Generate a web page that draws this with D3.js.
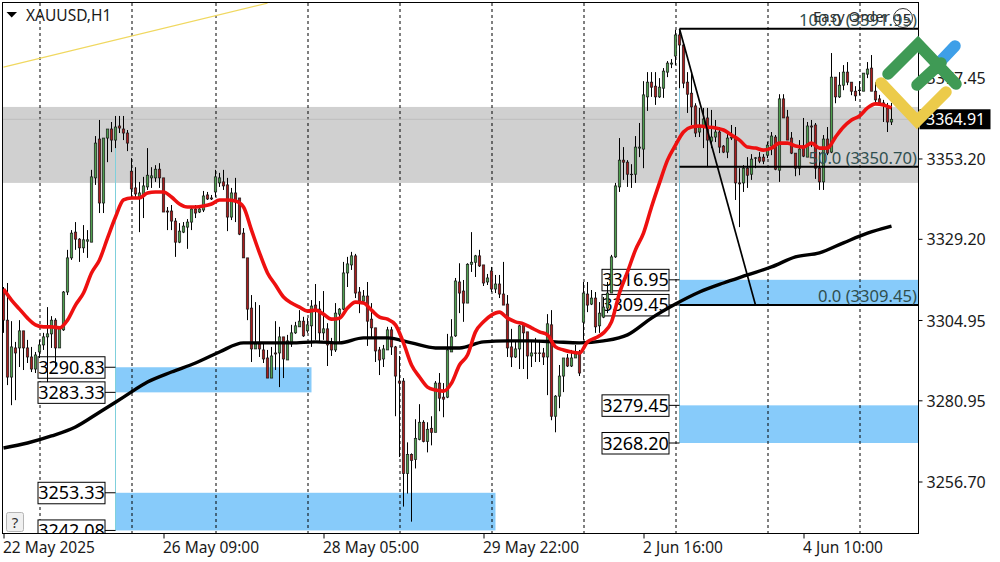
<!DOCTYPE html>
<html>
<head>
<meta charset="utf-8">
<title>XAUUSD,H1</title>
<script src="https://cdn.jsdelivr.net/npm/d3@7"></script>
<style>
body { margin: 0; background: #fff; overflow: hidden; }
svg text { font-family: "Noto Sans", sans-serif; }
</style>
</head>
<body>
<div id="chart"></div>
<script>
// hourly candles, one value per bar
var opens = [3313.9,3304.9,3287.9,3296.6,3296.6,3301.7,3296.6,3293.9,3290.3,3295.4,3297.5,3299.9,3300.8,3304.9,3296.6,3302,3313.3,3323.5,3331.2,3329.1,
3326.5,3328.5,3328.2,3347.4,3359,3339.9,3359.3,3362,3358.7,3362.9,3362,3360.8,3349.4,3344.4,3341.7,3342.3,3344.7,3347.4,3347.4,3350,
3347.4,3337.5,3337.5,3334.5,3328.2,3331.2,3332.7,3334.2,3338.1,3337.2,3337.8,3342.3,3341.4,3343.2,3345.9,3346.2,3345.3,3335.7,3342.9,3341.4,
3330.9,3323.5,3308.5,3296.3,3297.8,3296,3293.6,3287.6,3295.1,3295.1,3299.9,3293,3297.8,3301.1,3302.9,3304.6,3301.7,3303.2,3309.4,3308.2,
3301.1,3302.3,3298.4,3296,3306.7,3308.2,3319,3321.4,3324.1,3313.3,3310.6,3312.1,3305.2,3302.6,3296,3293.3,3296,3302,3296.9,3286.7,
3286.7,3259.1,3264.8,3263.3,3269.3,3274.4,3268.7,3272.6,3271.4,3286.1,3281.9,3281.9,3295.4,3300.2,3316.3,3313.6,3310,3321.6,3322.2,3324.1,
3321.4,3316.3,3319.6,3314.2,3315.7,3312.7,3309.7,3296.9,3293.9,3296.3,3303.5,3301.4,3294.2,3295.1,3295.1,3295.1,3293.9,3303.5,3276.2,3282.2,
3288.2,3293.6,3291.2,3293.6,3295.1,3304.3,3312.7,3309.7,3311.5,3303.2,3305.8,3308.5,3313,3323.8,3344.7,3352.7,3352.1,3348.5,3348.5,3356.3,
3356,3371.6,3376,3374.8,3371.6,3374.2,3379,3381.4,3383.8,3390.1,3387.1,3376,3372.7,3368.9,3361.1,3362.6,3365.3,3358.4,3359.6,3361.1,
3356.9,3355.1,3359.3,3359.3,3345.9,3345.9,3350.3,3348.5,3353.3,3353.6,3353.6,3354.2,3356.9,3359.6,3349.7,3371,3365.6,3359.3,3354.8,3350.3,
3356.9,3353.6,3362.9,3363.2,3350.3,3346.2,3359,3355.1,3377.5,3371.6,3375.1,3379,3376,3373.3,3373.6,3373.3,3378.4,3380.2,3373.3,3371,
3369.8,3368.3,3364.1];
var highs = [3314.8,3316,3304.6,3298.4,3304.9,3301.7,3299,3296.9,3295.4,3299,3301.1,3308.8,3306.1,3305.5,3302.9,3313.6,3325.9,3331.8,3334.2,3329.4,
3333.3,3331.8,3349.8,3359.9,3364.7,3359.3,3362,3364.1,3365.9,3365.9,3365.9,3361.7,3353.3,3350.6,3346.2,3347.7,3356.3,3350.6,3351.2,3351.8,
3347.4,3338.7,3339.3,3335.4,3333.9,3334.2,3335.1,3338.7,3339.3,3338.4,3343.5,3343.2,3342.3,3349.8,3348.9,3349.8,3347.4,3344.4,3347.4,3341.4,
3332.4,3323.5,3312.4,3310.3,3309.4,3298.1,3296,3296.9,3304.6,3302.9,3299.9,3300.5,3303.5,3304.4,3307.9,3305.9,3305.5,3310.9,3315.7,3310.6,
3313.6,3304,3299.6,3310,3308.5,3322.3,3323.8,3325.3,3324.7,3314.8,3313.9,3316.3,3310,3302.6,3296.9,3297.5,3302.9,3302.9,3297.2,3294.2,
3287.6,3268.4,3265.1,3275.3,3279.8,3275,3274.4,3276.2,3286.7,3289.1,3286.1,3300.8,3305.2,3317.5,3321.9,3316.9,3321.9,3331.2,3324.4,3325.9,
3321.4,3318.7,3320.8,3318.4,3318.4,3322.3,3312.4,3302.3,3298.4,3303.5,3303.5,3301.4,3298.4,3299.6,3299,3296.6,3306.7,3307.9,3282.5,3291.5,
3293.6,3294.8,3296,3297.5,3296,3316.3,3316.3,3313.9,3313.3,3310.3,3311.8,3316.3,3324.4,3345.9,3359.3,3356.6,3352.7,3351.5,3359.9,3363.8,
3376.3,3379,3379,3379,3377.2,3380.2,3382.3,3382.9,3391.6,3391.9,3387.1,3379,3379,3369.7,3368.3,3368.3,3368.3,3367.7,3364.7,3362.6,
3357.2,3361.1,3363.2,3362.6,3350.3,3351.2,3353.6,3354.5,3353.6,3355.1,3354.5,3358.1,3361.1,3360.2,3372.4,3372.4,3367.7,3361.1,3354.8,3358.7,
3365.3,3364.1,3364.7,3363.8,3355.1,3360.2,3362.6,3384.7,3377.5,3379,3381.1,3382,3376,3374.8,3376.3,3378.7,3382,3384.1,3376,3372.2,
3370.7,3369.8,3369.8];
var lows = [3301.1,3285.5,3279.5,3281,3290.9,3290,3292.1,3289.4,3289.1,3293.6,3296,3286.4,3296.6,3290.9,3296.6,3301.7,3312.4,3322.9,3325.9,3322.3,
3325,3323.5,3328.2,3345.3,3336.9,3336.9,3352.1,3355.1,3356.3,3360.8,3358.7,3355.4,3341.4,3341.7,3331.2,3335.4,3343.8,3344.4,3346.2,3344.4,
3337.2,3331.8,3331.8,3323.8,3327.9,3330.9,3326.2,3331.8,3335.4,3336.9,3337.2,3340.8,3340.8,3341.7,3344.7,3343.8,3331.5,3334.8,3334.2,3330.3,
3323.5,3304.9,3292.4,3296.3,3293.9,3292.1,3287.6,3287.6,3290,3284.9,3287.6,3293,3296.9,3300.8,3302.9,3299.9,3301.1,3296.9,3299,3298.4,
3299,3291.2,3294.2,3295.4,3298.1,3307.9,3314.8,3319.9,3311.5,3307,3310.3,3297.2,3299.6,3292.4,3288.5,3290.9,3296,3294.5,3276.2,3264,
3249.2,3253.1,3244.7,3260.6,3269,3268.4,3265.4,3267.5,3271.4,3277.7,3275.9,3281.6,3295.4,3299.9,3307,3304.4,3310,3319.3,3317.8,3320.8,
3315.1,3315.4,3313.3,3313,3311.5,3309.4,3293.9,3290.9,3293.6,3290.3,3290.3,3287.3,3290.9,3292.4,3292.4,3291.5,3282.5,3275,3271.4,3278.6,
3283.4,3290.9,3290.9,3293.6,3288.2,3299,3307.3,3309.4,3301.1,3301.1,3305.5,3307,3313,3323.5,3343.2,3346.8,3344.7,3344.4,3345.9,3353.6,
3350.3,3367.4,3371.6,3369.2,3371.3,3371.3,3377.5,3380.2,3381.1,3374.2,3374.2,3366.8,3363.2,3359.6,3359.6,3356.3,3350.6,3356.3,3358.1,3354.8,
3354.8,3353.3,3358.7,3340.8,3332.7,3343.2,3344.4,3346.8,3350.3,3351.8,3351.5,3353.3,3354.2,3349.7,3346.2,3365.3,3358.7,3354.5,3347.9,3348.2,
3353.6,3353.6,3356.6,3347.1,3343.8,3343.8,3354.2,3354.8,3369.7,3371.3,3373.6,3375.1,3372.1,3370.4,3372.1,3373.3,3377.2,3373.3,3369.2,3369.2,
3364.1,3361.1,3363.2];
var closes = [3304.9,3287.9,3296.9,3295.1,3301.7,3296.6,3293.9,3290.3,3294.5,3297.5,3299.9,3300.8,3304.9,3296.6,3302.6,3313.3,3323.5,3330.9,3329.1,3326.5,
3328.9,3328.9,3347.7,3357.8,3339.9,3359.3,3362,3358.7,3362.6,3362.3,3360.8,3357.8,3344.1,3342.6,3342.9,3345,3348.2,3348,3350,3347.4,
3337.2,3337.2,3334.5,3328.2,3331.5,3333,3334.2,3338.1,3336.9,3338.1,3342,3341.1,3341.1,3347.7,3347.4,3345,3335.7,3342.9,3340.2,3330.6,
3323.5,3308.2,3296.3,3297.8,3296.3,3293.3,3287.6,3294.2,3294.8,3299.9,3293.3,3298.7,3301.1,3303.2,3304.6,3300.2,3303.5,3309.1,3307.9,3301.1,
3302.3,3297.5,3296,3307,3308.2,3319,3321.7,3324.1,3313,3310.6,3312.1,3304.6,3302.6,3295.7,3293,3296.3,3302,3296.9,3288.2,3286.1,
3259.1,3264.8,3263,3269.6,3274.4,3268.7,3272.3,3271.4,3286.1,3281.6,3281.3,3296,3299.9,3316.6,3313,3310,3321.6,3322.2,3324.1,3321.1,
3316,3317.5,3314.2,3315.7,3312.7,3309.4,3296.6,3293.9,3296.3,3303.2,3301.1,3294.2,3295.1,3295,3295,3293.9,3303.8,3276.2,3282.2,3288.2,
3293.6,3291.2,3293.6,3294.8,3289.1,3313,3309.4,3311.5,3302.9,3307,3308.8,3313,3323.8,3345,3352.7,3352.1,3348.5,3348.4,3356.6,3356.6,
3372.2,3376,3374.5,3371.6,3374.5,3379.3,3381.7,3381.7,3390.1,3387.1,3375.7,3372.4,3368.6,3360.8,3362.6,3365,3358.7,3359.6,3361.1,3356.6,
3355.1,3359.3,3359.6,3345.9,3345.6,3350.3,3348.2,3353,3353.4,3352.4,3352.4,3357.2,3359.9,3350,3371,3365.3,3358.7,3354.8,3350.3,3356,
3353.9,3362.9,3362.6,3350.3,3346.2,3359,3354.8,3377.5,3371.6,3375.1,3379,3376,3373.3,3371.9,3373.5,3378.7,3379.9,3373.3,3370.7,3369.8,
3369.5,3364.1,3364.91];

// moving averages, read every 2nd bar (fast) and every 6th bar (slow)
var fastStep = 2;
var fastMa = [3314.2,3310.9,3308.2,3305.5,3303.5,3302.9,3302.9,3302.6,3304.9,3309.4,3313,3319,3322.9,3329.4,3335.7,3340.8,3341.4,3341.4,3342.9,3343.2,
3343.2,3341.7,3339.6,3338.7,3338.7,3339,3339.6,3340.8,3340.8,3340.5,3338.7,3331.8,3325,3319,3315.4,3311.8,3310,3308.8,3307.6,3307.9,
3306.7,3305.2,3305.5,3308.5,3310.3,3310,3307.9,3305.8,3305.2,3303.5,3298.1,3291.5,3287.9,3284.9,3284,3283.7,3286.1,3291.5,3294.5,3301.4,
3304.4,3306.4,3307.3,3305.5,3304.4,3303.8,3302.6,3301.4,3300.5,3296.9,3296,3295.4,3295.1,3298.4,3299.6,3301.1,3304.4,3313,3319.3,3325.9,
3330.9,3338.7,3345.9,3352.7,3357.2,3361.1,3362.6,3362.9,3362.6,3362.3,3361.7,3360.2,3358.7,3356.6,3356.3,3355.7,3356.3,3357.8,3357.8,3356.9,
3356.6,3357.8,3356.3,3356.3,3359.6,3362.6,3364.7,3365.9,3368.3,3369.5,3369.2,3368.3];
var slowStep = 6;
var slowMa = [3266.7,3268.2,3270.3,3273,3277.4,3281.9,3286.4,3289.4,3292.1,3295.4,3298.1,3298.1,3298.1,3298.4,3298.1,3299.6,3299.6,3298.1,3296.6,3296.6,
3298.4,3298.7,3298.7,3298.4,3298.1,3298.7,3300.5,3305.5,3309.7,3313.3,3316,3318.4,3320.8,3323.8,3325,3328,3330.9,3333];

// axes
var priceTicks = [3377.45, 3353.20, 3329.20, 3304.95, 3280.95, 3256.70];
var timeTickBars = [0, 40, 80, 120, 160, 200];
var timeTickLabels = ["22 May 2025", "26 May 09:00", "28 May 05:00", "29 May 22:00", "2 Jun 16:00", "4 Jun 10:00"];
var separatorBars = [9, 32, 53, 76, 99, 122, 145, 168, 191, 214];
var bidPrice = 3364.91;

// drawn objects
var supplyZone = [3368.6, 3345.9];
var trendBars = [0, 66];
var trendPrices = [3380.5, 3399.6];
var zoneTop = [3290.83, 3253.33, 3316.95, 3279.45];
var zoneBottom = [3283.33, 3242.08, 3309.45, 3268.20];
var zoneStart = [28, 28, 169, 169];
var zoneEnd = [77, 123, 230, 230];
var fiboStartBar = 169;
var fiboLevels = [100.0, 50.0, 0.0];
var fiboPrices = [3391.95, 3350.70, 3309.45];
var fiboDiagBars = [169, 188];
var fiboDiagPrices = [3391.95, 3309.45];

var width = 1000, height = 562;
var left = 3, right = 918, top_ = 3, bottom = 533;

var x = d3.scaleLinear().domain([0, 222]).range([3.5, 891.5]);
var y = d3.scaleLinear().domain([3256.70, 3377.45]).range([481.5, 77.3]);

var svg = d3.select("#chart").append("svg").attr("width", width).attr("height", height);

svg.append("clipPath").attr("id", "plot")
  .append("rect").attr("x", left).attr("y", top_).attr("width", right - left).attr("height", bottom - top_);

var g = svg.append("g").attr("clip-path", "url(#plot)");

g.append("rect")
  .attr("x", left).attr("width", right - left)
  .attr("y", y(supplyZone[0])).attr("height", y(supplyZone[1]) - y(supplyZone[0]))
  .attr("fill", "#d0d0d0");

// blue zones
g.selectAll(".zone").data(zoneTop).enter().append("rect")
  .attr("class", "zone")
  .attr("x", function(d, i) { return x(zoneStart[i]) - 0.5; })
  .attr("width", function(d, i) { return x(zoneEnd[i]) - x(zoneStart[i]) + 0.5; })
  .attr("y", function(d) { return y(d); })
  .attr("height", function(d, i) { return y(zoneBottom[i]) - y(d); })
  .attr("fill", "#87cbfa");

// teal start lines of the zones
g.append("line").attr("x1", x(28)).attr("x2", x(28))
  .attr("y1", y(highs[28]) + 10).attr("y2", y(zoneBottom[1]))
  .attr("stroke", "#7fd0dc");
g.append("line").attr("x1", x(169)).attr("x2", x(169))
  .attr("y1", y(fiboPrices[0])).attr("y2", y(zoneBottom[3]))
  .attr("stroke", "#7fc4dc");

// day separators
g.selectAll(".sep").data(separatorBars).enter().append("line")
  .attr("class", "sep")
  .attr("x1", function(d) { return x(d) + 0.5; }).attr("x2", function(d) { return x(d) + 0.5; })
  .attr("y1", top_).attr("y2", bottom)
  .attr("stroke", "#000").attr("stroke-dasharray", "3,3");

// bid line
g.append("line").attr("x1", left).attr("x2", right)
  .attr("y1", y(bidPrice)).attr("y2", y(bidPrice))
  .attr("stroke", "#bdbdbd");

g.append("line")
  .attr("x1", x(trendBars[0])).attr("y1", y(trendPrices[0]))
  .attr("x2", x(trendBars[1])).attr("y2", y(trendPrices[1]))
  .attr("stroke", "#f0d860").attr("stroke-width", 1.2);

// price boxes left of the zones
function priceBox(price, startBar) {
  var cy = y(price);
  var bx = x(startBar) - 77.5;
  g.append("line").attr("x1", bx + 66).attr("x2", x(startBar)).attr("y1", cy).attr("y2", cy).attr("stroke", "#000");
  g.append("rect").attr("x", bx).attr("y", cy - 10.5).attr("width", 67).attr("height", 21.5)
    .attr("fill", "#fff").attr("stroke", "#000");
  g.append("text").attr("x", bx + 33.5).attr("y", cy + 6.5).attr("text-anchor", "middle")
    .style("font-size", "18px").attr("fill", "#000").text(price.toFixed(2));
}
zoneTop.forEach(function(d, i) {
  priceBox(d, zoneStart[i]);
  priceBox(zoneBottom[i], zoneStart[i]);
});

// candles
var bars = g.selectAll(".bar").data(opens).enter().append("g").attr("class", "bar");
bars.append("line")
  .attr("x1", function(d, i) { return x(i); }).attr("x2", function(d, i) { return x(i); })
  .attr("y1", function(d, i) { return y(highs[i]); }).attr("y2", function(d, i) { return y(lows[i]); })
  .attr("stroke", "#000");
bars.append("rect")
  .attr("x", function(d, i) { return x(i) - 1.2; })
  .attr("width", 2.4)
  .attr("y", function(d, i) { return y(Math.max(d, closes[i])); })
  .attr("height", function(d, i) { return Math.max(0.5, Math.abs(y(d) - y(closes[i]))); })
  .attr("fill", function(d, i) { return closes[i] >= d ? "#4f9f4f" : "#a81c1c"; })
  .attr("stroke", "#1a1a1a").attr("stroke-width", 0.7);

// moving averages
var maLine = d3.line().curve(d3.curveMonotoneX);
g.append("path")
  .attr("d", maLine(slowMa.map(function(d, i) { return [x(i * slowStep), y(d)]; })))
  .attr("fill", "none").attr("stroke", "#000").attr("stroke-width", 3.4);
g.append("path")
  .attr("d", maLine(fastMa.map(function(d, i) { return [x(i * fastStep), y(d)]; })))
  .attr("fill", "none").attr("stroke", "#ee1010").attr("stroke-width", 3.6);

// fibo
g.selectAll(".fibo").data(fiboPrices).enter().append("line")
  .attr("class", "fibo")
  .attr("x1", x(fiboStartBar)).attr("x2", right)
  .attr("y1", function(d) { return y(d); }).attr("y2", function(d) { return y(d); })
  .attr("stroke", "#000").attr("stroke-width", 2);
g.append("line")
  .attr("x1", x(fiboDiagBars[0])).attr("y1", y(fiboDiagPrices[0]))
  .attr("x2", x(fiboDiagBars[1])).attr("y2", y(fiboDiagPrices[1]))
  .attr("stroke", "#000").attr("stroke-width", 1.7);
g.selectAll(".fibotext").data(fiboPrices).enter().append("text")
  .attr("class", "fibotext")
  .attr("x", 917).attr("y", function(d) { return y(d) - 3; })
  .attr("text-anchor", "end").attr("fill", "#2f4f4f")
  .style("font-size", "16.6px")
  .text(function(d, i) { return fiboLevels[i].toFixed(1) + " (" + d.toFixed(2) + ")"; });

// frame
svg.append("rect").attr("x", left - 0.5).attr("y", top_ - 0.5).attr("width", right - left + 1).attr("height", bottom - top_ + 1)
  .attr("fill", "none").attr("stroke", "#000");

// axes
var yAxis = d3.axisRight(y).tickValues(priceTicks).tickSize(4).tickPadding(4)
  .tickFormat(function(d) { return d3.format(".2f")(d); });
var yg = svg.append("g").attr("transform", "translate(" + (right + 0.5) + ",0)").call(yAxis);
var xAxis = d3.axisBottom(x).tickValues(timeTickBars).tickSize(5).tickPadding(3)
  .tickFormat(function(d, i) { return timeTickLabels[i]; });
var xg = svg.append("g").attr("transform", "translate(0," + (bottom + 0.5) + ")").call(xAxis);
yg.select(".domain").remove();
xg.select(".domain").remove();
svg.selectAll(".tick text").style("font-size", "16px").style("font-family", "'Noto Sans', sans-serif").attr("fill", "#1a1a1a");
yg.selectAll(".tick text").attr("y", 1);
xg.selectAll(".tick text").attr("text-anchor", "start").attr("x", -1).style("font-size", "15.5px");

// current price tag
svg.append("rect").attr("x", right + 1.5).attr("y", y(bidPrice) - 10).attr("width", 71).attr("height", 20).attr("fill", "#000");
svg.append("text").attr("x", 926).attr("y", y(bidPrice) + 6).attr("fill", "#fff").style("font-size", "16px").text(bidPrice.toFixed(2));

// header
svg.append("path").attr("d", "M6.5,12 L17,12 L11.7,17.5 Z").attr("fill", "#000");
svg.append("text").attr("x", 26).attr("y", 20.5).attr("fill", "#1a1a1a").style("font-size", "15.5px").text("XAUUSD,H1");

// EasyOrder label
svg.append("text").attr("x", 813).attr("y", 22).attr("fill", "#2f2f2f").style("font-size", "15px").text("Easy Order");
svg.append("circle").attr("cx", 903).attr("cy", 18).attr("r", 9.5).attr("fill", "none").attr("stroke", "#333");
svg.append("text").attr("x", 903).attr("y", 23).attr("text-anchor", "middle").attr("fill", "#2f2f2f").style("font-size", "13px").text("15");

// help button
svg.append("rect").attr("x", 6.5).attr("y", 512.5).attr("width", 17).attr("height", 19).attr("rx", 2)
  .attr("fill", "#f0f0f0").attr("stroke", "#b5b5b5");
svg.append("text").attr("x", 15).attr("y", 528).attr("text-anchor", "middle").attr("fill", "#333").style("font-size", "15px").text("?");

// logo
var logo = svg.append("g").attr("fill", "none").attr("stroke-width", 11.5).attr("stroke-linecap", "round").attr("stroke-linejoin", "miter");
logo.append("path").attr("d", "M938,64 L955,46").attr("stroke", "#3e9fe8");
logo.append("path").attr("d", "M888,74 L918,44 L956,84").attr("stroke", "#3f9a55");
logo.append("path").attr("d", "M917,85 L941,63").attr("stroke", "#3f9a55");
logo.append("path").attr("d", "M881,83 L917,121 L946,92").attr("stroke", "#eccb4a");
</script>
</body>
</html>
